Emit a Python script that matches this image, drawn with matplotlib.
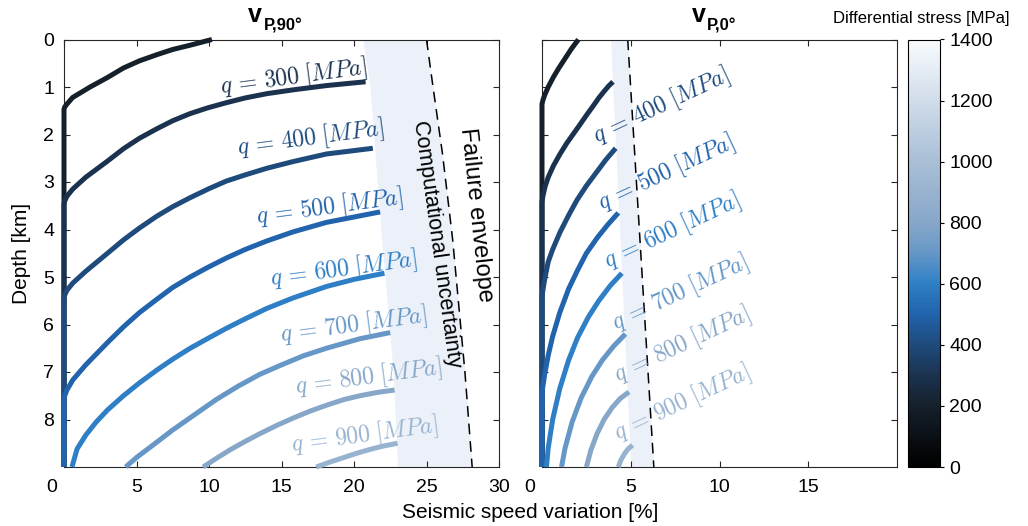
import numpy as np
import matplotlib
matplotlib.use('Agg')
import matplotlib.pyplot as plt
import matplotlib.transforms as mtransforms
from matplotlib.colors import LinearSegmentedColormap, Normalize
from matplotlib.cm import ScalarMappable

plt.rcParams['font.family'] = ['Liberation Sans', 'DejaVu Sans']
plt.rcParams['mathtext.fontset'] = 'cm'

# colour scale
cb_vals = [0, 200, 300, 400, 500, 600, 700, 800, 1000, 1200, 1400]
cb_cols = ['#000000', '#15202b', '#1b3350', '#1e4b7c', '#2163ac', '#2e7fc5',
           '#6597c7', '#87a7c9', '#a9bfd6', '#d0dcea', '#f8fbfd']

q_levels = [200, 300, 400, 500, 600, 700, 800, 900]

# ---- v_P,90  (x = speed variation %, d = depth km)
x90_200 = [0, 0, 0.05, 0.2, 0.6, 1.8, 3.0, 4.1, 5.2, 6.4, 7.5, 8.7, 10.2]
d90_200 = [9, 1.47, 1.42, 1.36, 1.22, 1.0, 0.8, 0.6, 0.45, 0.32, 0.21, 0.12, 0.0]
x90_300 = [0, 0, 0.05, 0.2, 0.6, 1.5, 3.0, 4.1, 5.2, 6.4, 7.5, 8.7, 9.9,
           11.2, 12.5, 14.0, 15.8, 18.1, 20.8]
d90_300 = [9, 3.47, 3.4, 3.3, 3.15, 2.9, 2.56, 2.3, 2.08, 1.88, 1.71, 1.56,
           1.44, 1.33, 1.23, 1.14, 1.06, 0.97, 0.89]
x90_400 = [0, 0, 0.05, 0.2, 0.6, 1.5, 3.0, 4.1, 5.2, 6.4, 7.5, 8.7, 10.0,
           11.2, 12.5, 14.0, 15.8, 18.1, 21.3]
d90_400 = [9, 5.45, 5.38, 5.28, 5.13, 4.88, 4.5, 4.22, 3.97, 3.72, 3.52,
           3.33, 3.14, 2.98, 2.85, 2.71, 2.57, 2.41, 2.29]
x90_500 = [0, 0, 0.05, 0.2, 0.6, 1.5, 3.0, 4.1, 5.2, 6.4, 7.5, 8.7, 9.9,
           11.2, 12.5, 14.0, 15.8, 18.1, 21.8]
d90_500 = [9, 7.57, 7.5, 7.38, 7.17, 6.85, 6.38, 6.05, 5.75, 5.47, 5.22,
           5.0, 4.8, 4.6, 4.42, 4.24, 4.05, 3.85, 3.63]
x90_600 = [0.55, 0.9, 1.5, 2.2, 3.0, 4.1, 5.2, 6.4, 7.5, 8.7, 10.0, 11.2,
           12.5, 14.0, 15.8, 18.1, 20.0, 22.1]
d90_600 = [9.0, 8.62, 8.33, 8.06, 7.8, 7.5, 7.23, 6.96, 6.73, 6.5, 6.28,
           6.08, 5.88, 5.66, 5.44, 5.2, 5.05, 4.92]
x90_700 = [4.25, 5.0, 6.0, 7.5, 9.0, 10.5, 12.0, 13.5, 15.0, 16.5, 18.1,
           20.4, 22.5]
d90_700 = [9.0, 8.8, 8.57, 8.22, 7.9, 7.58, 7.3, 7.05, 6.85, 6.66, 6.5,
           6.3, 6.17]
x90_800 = [9.6, 10.5, 11.5, 12.5, 13.5, 14.7, 15.8, 17.0, 18.1, 19.3, 20.4,
           21.6, 22.8]
d90_800 = [9.0, 8.82, 8.63, 8.46, 8.3, 8.12, 7.97, 7.82, 7.7, 7.58, 7.5,
           7.43, 7.38]
x90_900 = [17.4, 18.3, 19.3, 20.2, 21.1, 22.0, 23.0]
d90_900 = [9.0, 8.9, 8.8, 8.71, 8.63, 8.56, 8.5]

band90_d = [0, 1, 2.4, 4.2, 7.0, 9]
band90_left = [20.6, 21.1, 21.45, 21.9, 22.7, 23.0]
fail90_x = [25.0, 25.45, 26.1, 26.8, 27.65, 28.15]

lab90_x = [15.8, 17.0, 18.3, 19.3, 20.0, 21.0, 20.7]
lab90_d = [0.79, 2.08, 3.53, 4.83, 6.01, 7.11, 8.32]
lab90_q = [300, 400, 500, 600, 700, 800, 900]

# ---- v_P,0
x0_200 = [0, 0, 0.05, 0.15, 0.35, 0.63, 0.95, 1.3, 1.65, 2.05]
d0_200 = [9, 1.36, 1.28, 1.17, 1.0, 0.8, 0.6, 0.4, 0.2, 0.0]
x0_300 = [0, 0, 0.05, 0.17, 0.35, 0.64, 1.0, 1.4, 1.8, 2.16, 2.55, 2.9,
          3.2, 3.48, 3.75, 4.0]
d0_300 = [9, 3.42, 3.3, 3.1, 2.9, 2.66, 2.42, 2.18, 1.97, 1.78, 1.57, 1.39,
          1.23, 1.1, 0.98, 0.89]
x0_400 = [0, 0, 0.05, 0.15, 0.35, 0.6, 1.0, 1.5, 1.97, 2.5, 3.1, 3.6, 4.15]
d0_400 = [9, 5.4, 5.28, 5.05, 4.68, 4.42, 4.07, 3.7, 3.38, 3.08, 2.78,
          2.53, 2.29]
x0_500 = [0, 0, 0.05, 0.15, 0.35, 0.6, 1.0, 1.5, 2.0, 2.5, 3.1, 3.7, 4.3]
d0_500 = [9, 7.45, 7.3, 7.05, 6.65, 6.25, 5.75, 5.25, 4.86, 4.5, 4.18,
          3.9, 3.65]
x0_600 = [0.25, 0.35, 0.6, 1.0, 1.5, 2.0, 2.6, 3.2, 3.85, 4.5]
d0_600 = [9, 8.6, 8.0, 7.35, 6.75, 6.28, 5.85, 5.5, 5.18, 4.92]
x0_700 = [1.1, 1.3, 1.7, 2.2, 2.8, 3.4, 4.05, 4.7]
d0_700 = [9, 8.6, 8.05, 7.55, 7.1, 6.75, 6.45, 6.2]
x0_800 = [2.5, 2.75, 3.1, 3.5, 3.95, 4.4, 4.9]
d0_800 = [9, 8.65, 8.3, 8.0, 7.75, 7.56, 7.42]
x0_900 = [4.3, 4.45, 4.65, 4.85, 5.1]
d0_900 = [9, 8.85, 8.72, 8.62, 8.54]

band0_d = [0, 9]
band0_left = [3.86, 5.0]
fail0_x = [4.83, 6.3]

lab0_x = [6.7, 7.0, 7.3, 7.75, 7.9, 7.9]
lab0_d = [1.4, 2.81, 4.03, 5.32, 6.43, 7.65]
lab0_q = [400, 500, 600, 700, 800, 900]

cmap = LinearSegmentedColormap.from_list(
    'stress', list(zip(np.array(cb_vals) / 1400.0, cb_cols)))
norm = Normalize(0, 1400)

W, H = 1028, 526
fig = plt.figure(figsize=(W / 100, H / 100), dpi=100)
ax1 = fig.add_axes([64 / W, 1 - 467 / H, 435 / W, 427.5 / H])
ax2 = fig.add_axes([542 / W, 1 - 467 / H, 355 / W, 427.5 / H])
cax = fig.add_axes([908 / W, 1 - 467 / H, 32 / W, 427.5 / H])

curves90 = [(x90_200, d90_200), (x90_300, d90_300), (x90_400, d90_400),
            (x90_500, d90_500), (x90_600, d90_600), (x90_700, d90_700),
            (x90_800, d90_800), (x90_900, d90_900)]
curves0 = [(x0_200, d0_200), (x0_300, d0_300), (x0_400, d0_400),
           (x0_500, d0_500), (x0_600, d0_600), (x0_700, d0_700),
           (x0_800, d0_800), (x0_900, d0_900)]

band_col = '#ecf1f9'


def draw_panel(ax, curves, bd, bleft, fx, labx, labd, labq, rot):
    ax.fill_betweenx(bd, bleft, fx, color=band_col, lw=0, zorder=1)
    ax.plot(fx, bd, ls=(0, (7, 4.5)), color='k', lw=1.1, zorder=2)
    for q, (xs, ds) in zip(q_levels, curves):
        ax.plot(xs, ds, color=cmap(norm(q)), lw=3.6, solid_joinstyle='round',
                solid_capstyle='butt', clip_on=False, zorder=3)
    for q, lx, ld in zip(labq, labx, labd):
        ax.text(lx, ld, r'$q\,=\,%d\;[MPa]$' % q, color=cmap(norm(q)),
                fontsize=17, rotation=rot, ha='center', va='center',
                rotation_mode='anchor', zorder=4)
    ax.set_ylim(9, 0)
    ax.set_yticks(range(0, 9))
    ax.tick_params(direction='in', top=True, right=True, length=4,
                   width=0.8, labelsize=14, color='#262626')
    ax.tick_params(axis='x', pad=9)
    ax.tick_params(axis='y', pad=7)
    for s in ax.spines.values():
        s.set_linewidth(0.8)
        s.set_color('#262626')


draw_panel(ax1, curves90, band90_d, band90_left, fail90_x,
           lab90_x, lab90_d, lab90_q, 7.5)
ax1.set_xlim(0, 30)
ax1.set_xticks([0, 5, 10, 15, 20, 25, 30])
ax1.text(25.7, 4.3, 'Computational uncertainty', rotation=-82, fontsize=15.5,
         ha='center', va='center', rotation_mode='anchor', zorder=5)
ax1.text(28.4, 3.7, 'Failure envelope', rotation=-84, fontsize=17,
         ha='center', va='center', rotation_mode='anchor', zorder=5)

draw_panel(ax2, curves0, band0_d, band0_left, fail0_x,
           lab0_x, lab0_d, lab0_q, 25)
ax2.set_xlim(0, 20)
ax2.set_xticks([0, 5, 10, 15])
ax2.set_yticklabels([])

# the "0" labels sit a little left of their tick in the original
shift = mtransforms.ScaledTranslation(-0.12, 0, fig.dpi_scale_trans)
for ax in (ax1, ax2):
    t0 = ax.xaxis.get_major_ticks()[0].label1
    t0.set_transform(t0.get_transform() + shift)

# titles: bold v with bold subscript
for ax, sub, xf in [(ax1, 'P,90°', 0.455), (ax2, 'P,0°', 0.46)]:
    ax.text(xf, 1.041, 'v', transform=ax.transAxes, ha='right',
            va='baseline', fontsize=18, fontweight='bold')
    ax.text(xf + 0.005, 1.021, sub, transform=ax.transAxes, ha='left',
            va='baseline', fontsize=12, fontweight='bold')

cb = fig.colorbar(ScalarMappable(norm=norm, cmap=cmap), cax=cax)
cb.set_ticks(range(0, 1401, 200))
cb.ax.tick_params(labelsize=14, length=3, width=0.8, direction='out')
cb.outline.set_linewidth(0.8)
fig.text(921 / W, 1 - 18 / H, 'Differential stress [MPa]', ha='center',
         va='center', fontsize=12)

fig.text(530 / W, 1 - 512 / H, 'Seismic speed variation [%]', ha='center',
         va='center', fontsize=15)
fig.text(22 / W, 1 - 253 / H, 'Depth [km]', rotation=90, ha='center',
         va='center', fontsize=15)

fig.savefig('out.png', dpi=100)
